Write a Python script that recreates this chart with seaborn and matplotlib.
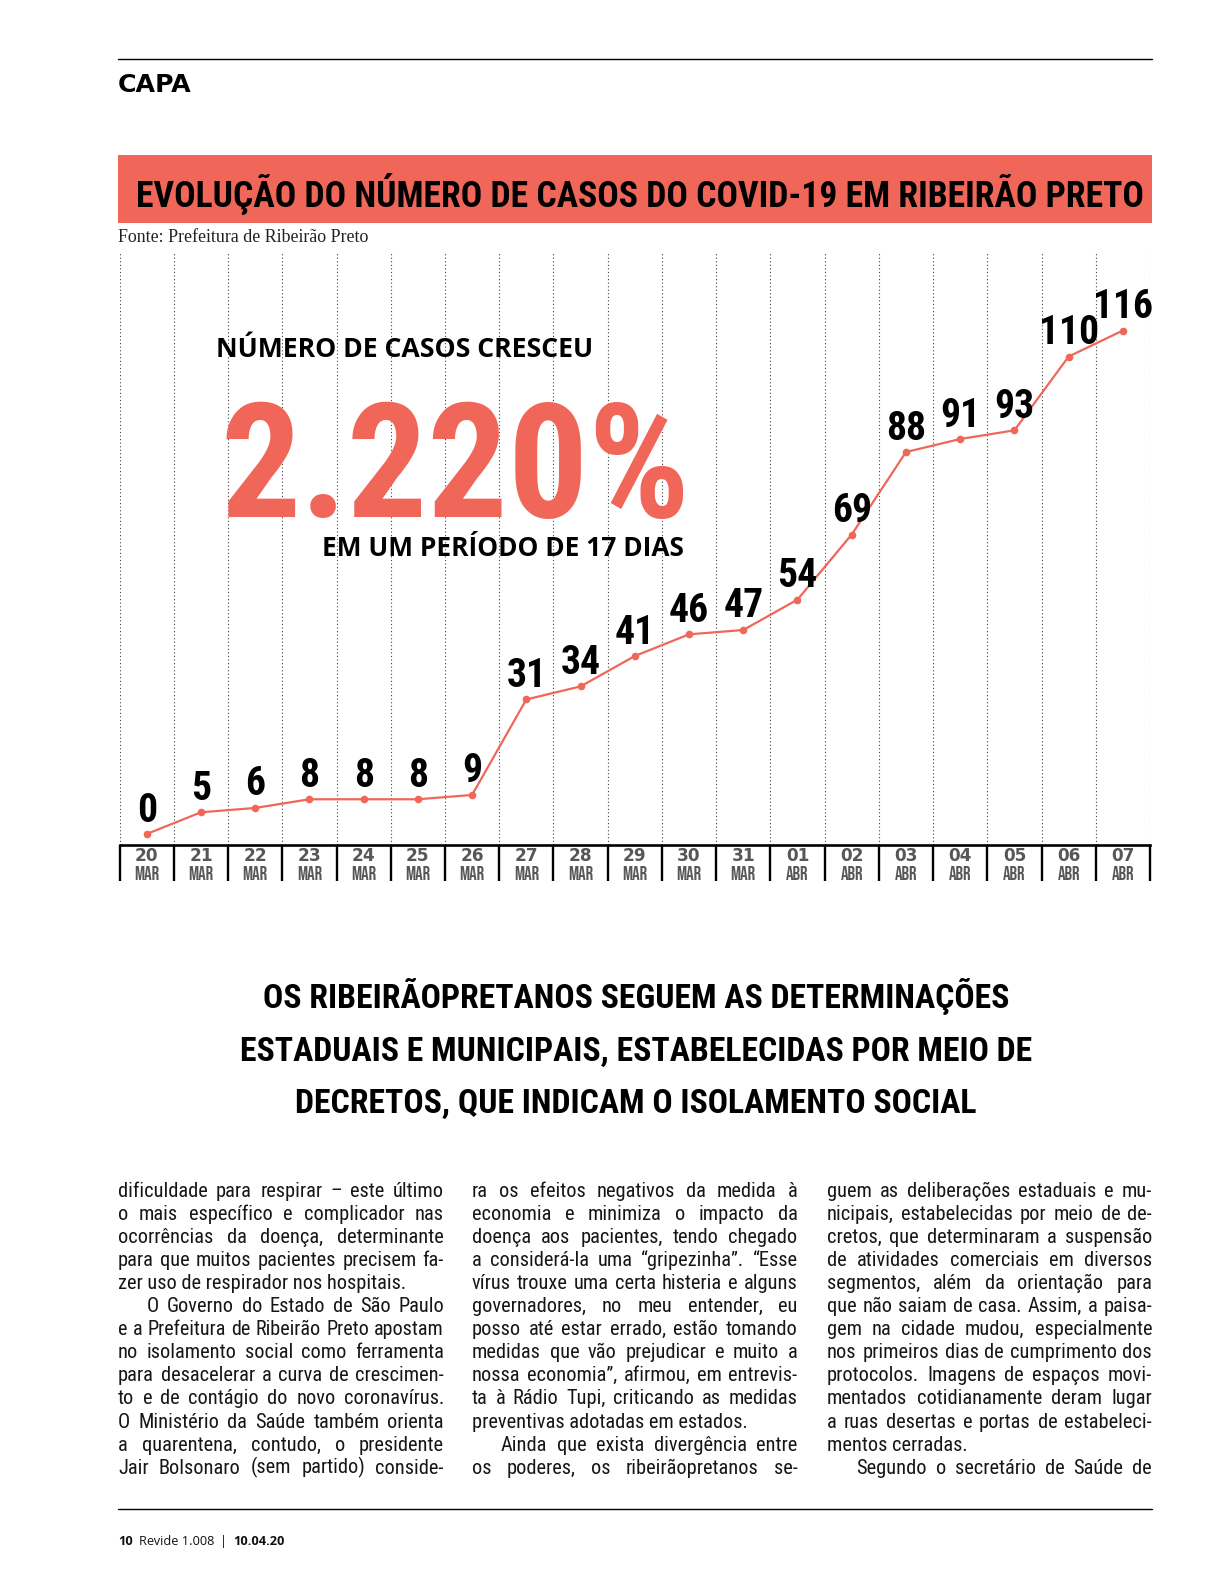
import os
import numpy as np
import pandas as pd
import seaborn as sns
import matplotlib
matplotlib.use("Agg")
import matplotlib.pyplot as plt
from matplotlib import font_manager as fm
from matplotlib.font_manager import FontProperties
from matplotlib.patches import Rectangle
from matplotlib.lines import Line2D
from matplotlib.ticker import FixedLocator

# ---------------- data ----------------
days = ["20", "21", "22", "23", "24", "25", "26", "27", "28", "29", "30", "31",
        "01", "02", "03", "04", "05", "06", "07"]
months = ["MAR"] * 12 + ["ABR"] * 7
cases = [0, 5, 6, 8, 8, 8, 9, 31, 34, 41, 46, 47, 54, 69, 88, 91, 93, 110, 116]

section_label = "CAPA"
title = "EVOLUÇÃO DO NÚMERO DE CASOS DO COVID-19 EM RIBEIRÃO PRETO"
source = "Fonte: Prefeitura de Ribeirão Preto"
callout_top = "NÚMERO DE CASOS CRESCEU"
callout_big = "2.220%"
callout_bottom = "EM UM PERÍODO DE 17 DIAS"
headline = ["OS RIBEIRÃOPRETANOS SEGUEM AS DETERMINAÇÕES",
            "ESTADUAIS E MUNICIPAIS, ESTABELECIDAS POR MEIO DE",
            "DECRETOS, QUE INDICAM O ISOLAMENTO SOCIAL"]
col1 = ["dificuldade para respirar – este último",
        "o mais específico e complicador nas",
        "ocorrências da doença, determinante",
        "para que muitos pacientes precisem fa-",
        "zer uso de respirador nos hospitais.",
        "O Governo do Estado de São Paulo",
        "e a Prefeitura de Ribeirão Preto apostam",
        "no isolamento social como ferramenta",
        "para desacelerar a curva de crescimen-",
        "to e de contágio do novo coronavírus.",
        "O Ministério da Saúde também orienta",
        "a quarentena, contudo, o presidente",
        "Jair Bolsonaro (sem partido) conside-"]
col2 = ["ra os efeitos negativos da medida à",
        "economia e minimiza o impacto da",
        "doença aos pacientes, tendo chegado",
        "a considerá-la uma “gripezinha”. “Esse",
        "vírus trouxe uma certa histeria e alguns",
        "governadores, no meu entender, eu",
        "posso até estar errado, estão tomando",
        "medidas que vão prejudicar e muito a",
        "nossa economia”, afirmou, em entrevis-",
        "ta à Rádio Tupi, criticando as medidas",
        "preventivas adotadas em estados.",
        "Ainda que exista divergência entre",
        "os poderes, os ribeirãopretanos se-"]
col3 = ["guem as deliberações estaduais e mu-",
        "nicipais, estabelecidas por meio de de-",
        "cretos, que determinaram a suspensão",
        "de atividades comerciais em diversos",
        "segmentos, além da orientação para",
        "que não saiam de casa. Assim, a paisa-",
        "gem na cidade mudou, especialmente",
        "nos primeiros dias de cumprimento dos",
        "protocolos. Imagens de espaços movi-",
        "mentados cotidianamente deram lugar",
        "a ruas desertas e portas de estabeleci-",
        "mentos cerradas.",
        "Segundo o secretário de Saúde de"]
col_last = [{4}, {10}, {11}]      # last lines of paragraphs (not justified)
col_indent = [{5}, {11}, {12}]    # first lines of paragraphs (indented)
footer_parts = [("10", True), ("Revide 1.008", False), ("|", False), ("10.04.20", True)]

# ---------------- style ----------------
sns.set_theme(style="white")
plt.rcParams["font.family"] = ["DejaVu Sans"]
RED = "#F0675A"
GREY = "#575757"

FILES = sorted({f.fname for f in fm.fontManager.ttflist})


def pick(keys, family="DejaVu Sans", weight="bold"):
    for k in keys:
        for f in FILES:
            if os.path.basename(f).lower().startswith(k):
                return FontProperties(fname=f)
    return FontProperties(family=family, weight=weight)


COND = pick(["bebasneue-bold.", "notosans-extracondensedbold.", "robotocondensed-bold.",
             "notosans-condensedbold.", "liberationsansnarrow-bold.", "dejavusanscondensed-bold."])
CONDR = pick(["bebasneue-regular.", "notosans-extracondensedsemibold.", "robotocondensed-medium.",
              "robotocondensed-bold.", "liberationsansnarrow-bold.", "dejavusanscondensed-bold."])
BODY = pick(["notosans-condensed.", "notosans-condensedregular.", "robotocondensed-regular.",
             "liberationsansnarrow-regular.", "dejavusanscondensed."], weight="normal")
SEMI = pick(["notosans-semicondensedbold.", "opensans-bold.", "notosans-bold."], family="Open Sans")
HEAVY = FontProperties(family="DejaVu Sans", weight="bold")
SERIF = FontProperties(family="Liberation Serif", weight="normal")
SANS = pick(["opensans-regular.", "notosans-regular."], family="Open Sans", weight="normal")
SANSB = pick(["opensans-bold.", "notosans-bold."], family="Open Sans", weight="bold")

W, H = 1211, 1594
fig = plt.figure(figsize=(W / 100, H / 100), dpi=100)
fig.patch.set_facecolor("white")
renderer = fig.canvas.get_renderer()


def fx(x):
    return x / W


def fy(y):
    return 1 - y / H


def width_of(s, prop, size):
    p = prop.copy()
    p.set_size(size)
    w, h, d = renderer.get_text_width_height_descent(s, p, ismath=False)
    return w


def fit(s, prop, target):
    return 100.0 * target / width_of(s, prop, 100.0)


def put(x, y, s, prop, size, color="black", ha="left", va="baseline", **kw):
    p = prop.copy()
    p.set_size(size)
    return fig.text(fx(x), fy(y), s, fontproperties=p, color=color, ha=ha, va=va, **kw)


# ---------------- page header ----------------
fig.add_artist(Line2D([fx(118), fx(1152)], [fy(59), fy(59)], color="black", lw=1.0,
                      transform=fig.transFigure))
put(118, 92.5, section_label, HEAVY, fit(section_label, HEAVY, 74))
fig.add_artist(Rectangle((fx(118), fy(223)), fx(1152) - fx(118), fy(155) - fy(223),
                         transform=fig.transFigure, facecolor=RED, edgecolor="none"))
put(640, 207, title, COND, fit(title, COND, 1008), ha="center")
put(118, 242, source, SERIF, fit(source, SERIF, 250), color="#222222")

# ---------------- chart ----------------
ax_top, ax_bot, ax_l, ax_r = 252.0, 844.6, 119.6, 1150.0
y0_px, ytop_px = 834.0, 330.5          # pixel rows of 0 and 116 cases
ax = fig.add_axes([fx(ax_l), fy(ax_bot), fx(ax_r) - fx(ax_l), (ax_bot - ax_top) / H])
ax.set_facecolor("none")
df = pd.DataFrame({"pos": np.arange(len(cases)), "cases": cases})
sns.lineplot(data=df, x="pos", y="cases", ax=ax, color=RED, linewidth=1.6,
             marker="o", markersize=5.5, markeredgewidth=0, zorder=3)
px_per = (y0_px - ytop_px) / max(cases)
ax.set_ylim(-(ax_bot - y0_px) / px_per, (y0_px - ax_top) / px_per)
ax.set_xlim(-0.5, len(cases) - 0.5)
ax.set_xlabel("")
ax.set_ylabel("")
ax.set_yticks([])
for s in ["top", "left", "right"]:
    ax.spines[s].set_visible(False)
ax.spines["bottom"].set_linewidth(1.9)
ax.spines["bottom"].set_color("black")

ax.set_xticks(np.arange(len(cases)))
ax.set_xticklabels(days)
dayprop = HEAVY.copy()
dayprop.set_size(12.2)
for lab in ax.get_xticklabels():
    lab.set_fontproperties(dayprop)
    lab.set_color(GREY)
ax.tick_params(axis="x", which="major", bottom=True, length=0, pad=1.5)
ax.xaxis.set_minor_locator(FixedLocator(np.arange(len(cases) + 1) - 0.5))
ax.tick_params(axis="x", which="minor", bottom=True, length=26, width=1.7, color="black",
               direction="out")
ax.grid(False)
ax.grid(which="minor", axis="x", linestyle=(0, (1, 2.2)), color="#444444", linewidth=0.8)

month_y = -(880.0 - ax_bot) / (ax_bot - ax_top)
mprop = CONDR.copy()
mprop.set_size(13.5)
for i, m in enumerate(months):
    ax.text(i, month_y, m, transform=ax.get_xaxis_transform(), ha="center", va="baseline",
            fontproperties=mprop, color=GREY, clip_on=False)

lprop = COND.copy()
lprop.set_size(28.5)
for i, v in enumerate(cases):
    ax.annotate(str(v), (i, v), xytext=(0, 9), textcoords="offset points", ha="center",
                va="baseline", fontproperties=lprop, color="black", zorder=5)

# ---------------- callout ----------------
put(216, 357, callout_top, SEMI, fit(callout_top, SEMI, 378), zorder=6)
put(220, 516.6, callout_big, COND, fit(callout_big, COND, 470), color=RED, zorder=6)
put(322, 556, callout_bottom, SEMI, fit(callout_bottom, SEMI, 362), zorder=6)

# ---------------- headline ----------------
hsize = fit(headline[1], COND, 792)
for y, line in zip([1008, 1061, 1113], headline):
    put(636, y, line, COND, hsize, ha="center")

# ---------------- body text ----------------
cols = [(118.0, 444.0), (472.0, 797.5), (827.0, 1152.0)]
indent = 29.0
base0, lead = 1197.0, 23.05
BODYC = "#161616"
ratios = []
for c, lines in enumerate([col1, col2, col3]):
    x0, x1 = cols[c]
    for k, line in enumerate(lines):
        if k in col_last[c]:
            continue
        avail = x1 - x0 - (indent if k in col_indent[c] else 0)
        ratios.append(width_of(line, BODY, 12.0) / avail)
bsize = 12.0 * 0.94 / float(np.median(ratios))
for c, lines in enumerate([col1, col2, col3]):
    x0, x1 = cols[c]
    for k, line in enumerate(lines):
        y = base0 + lead * k
        xs = x0 + (indent if k in col_indent[c] else 0)
        if k in col_last[c]:
            put(xs, y, line, BODY, bsize, color=BODYC)
            continue
        size = bsize
        nat = width_of(line, BODY, size)
        if nat > 0.985 * (x1 - xs):
            size = size * 0.985 * (x1 - xs) / nat
        words = line.split(" ")
        ws = [width_of(w, BODY, size) for w in words]
        gap = (x1 - xs - sum(ws)) / max(len(words) - 1, 1)
        x = xs
        for j, (w, ww) in enumerate(zip(words, ws)):
            if j == len(words) - 1:
                put(x1, y, w, BODY, size, color=BODYC, ha="right")
            else:
                put(x, y, w, BODY, size, color=BODYC)
            x += ww + gap

# ---------------- footer ----------------
fig.add_artist(Line2D([fx(118), fx(1152)], [fy(1509), fy(1509)], color="black", lw=1.0,
                      transform=fig.transFigure))
fsize = fit("Revide 1.008", SANS, 75)
x = 118.0
for txt, bold in footer_parts:
    prop = SANSB if bold else SANS
    put(x, 1545, txt, prop, fsize, color="#111111")
    x += width_of(txt, prop, fsize) + 6

fig.savefig("out.png", dpi=100, facecolor="white")
